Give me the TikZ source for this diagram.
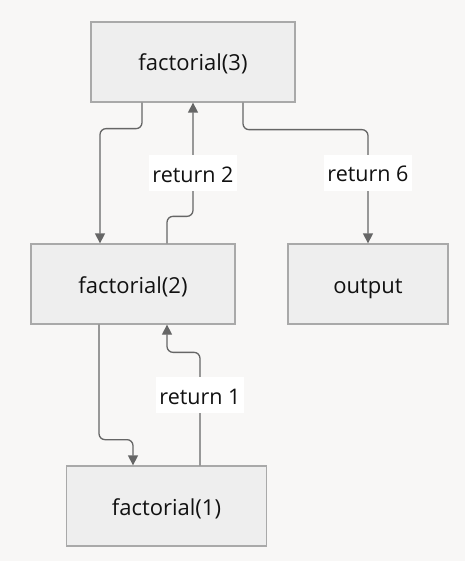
\documentclass[tikz,border=0pt]{standalone}
\usepackage{fontspec}
\setmainfont{Open Sans}
\usetikzlibrary{arrows.meta}
\definecolor{bgcol}{HTML}{F8F7F6}
\definecolor{boxfill}{HTML}{EEEEEE}
\definecolor{boxline}{HTML}{A9A9A9}
\definecolor{linkcol}{HTML}{666666}
\definecolor{txtcol}{HTML}{111111}
\tikzset{
  callbox/.style={draw=boxline, fill=boxfill, line width=1.3pt, minimum width=204pt,
    minimum height=80pt, text=txtcol, text height=22pt, text depth=4pt,
    font=\fontsize{22}{26}\selectfont},
  link/.style={draw=linkcol, line width=1.3pt, rounded corners=6pt,
    -{Triangle[length=10pt,width=10pt]}},
  tag/.style={fill=white, sharp corners, inner sep=3pt, minimum height=36pt,
    text=txtcol, text height=21pt, text depth=3pt, font=\fontsize{21.5}{26}\selectfont}
}
\begin{document}
\begin{tikzpicture}[x=1pt,y=-1pt]
      \fill[bgcol] (0,0) rectangle (465,561);
      \useasboundingbox (0,0) rectangle (465,561);

      \node[callbox] (f3) at (193,62) {factorial(3)};
      \node[callbox] (f2) at (133,284) {factorial(2)};
      \node[callbox, minimum width=160pt] (out) at (368,284) {output};
      \node[callbox, minimum width=200pt] (f1) at (166.5,506) {factorial(1)};

      \draw[link] ([xshift=-51pt]f3.south) -- ++(0,26) -| ([xshift=-33pt]f2.north);
      \draw[link] ([xshift=34pt]f2.north) -- ++(0,-27) -| node[tag, pos=0.69]{return 2} (f3.south);
      \draw[link] ([xshift=50pt]f3.south) -- ++(0,27) -| node[tag, pos=0.69]{return 6} (out.north);
      \draw[link] ([xshift=-34pt]f2.south) -- ++(0,115) -| ([xshift=-33.5pt]f1.north);
      \draw[link] ([xshift=33.5pt]f1.north) -- node[tag, pos=0.62]{return 1} ++(0,-113) -| ([xshift=34pt]f2.south);
    \end{tikzpicture}
\end{document}
